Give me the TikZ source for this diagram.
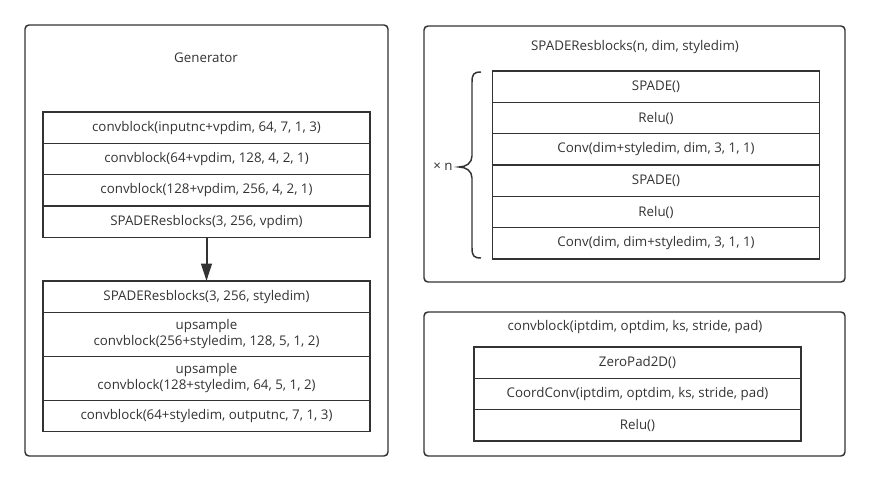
\documentclass[tikz,border=0pt]{standalone}
\usepackage{fontspec}
\setmainfont{Open Sans}
\usetikzlibrary{positioning,arrows.meta}
\definecolor{linegray}{HTML}{333333}
\tikzset{
    outer-box/.style = {draw=linegray, line width=1.1pt, rounded corners=3pt},
    layer-box/.style = {draw=linegray, line width=1.2pt, rectangle, inner sep=0pt, outer sep=0pt, align=center,
        minimum width=245pt, minimum height=23.5pt, text=linegray, font=\fontsize{10}{12}\selectfont},
    tall-box/.style = {layer-box, minimum height=33pt},
    box-title/.style = {text=linegray, font=\fontsize{10}{12}\selectfont},
}

\begin{document}
\begin{tikzpicture}[x=0.75pt, y=-0.75pt]
\useasboundingbox (0,0) rectangle (870,481);

% Generator
\draw[outer-box] (25,25) rectangle (388,456);
\node[box-title] (gen-title) at (206,58) {Generator};
\node[layer-box, anchor=north] (g1) at (206.5,112) {convblock(inputnc+vpdim, 64, 7, 1, 3)};
\node[layer-box, below=0pt of g1] (g2) {convblock(64+vpdim, 128, 4, 2, 1)};
\node[layer-box, below=0pt of g2] (g3) {convblock(128+vpdim, 256, 4, 2, 1)};
\node[layer-box, below=0pt of g3] (g4) {SPADEResblocks(3, 256, vpdim)};
\node[layer-box, anchor=north] (g5) at (206.5,281) {SPADEResblocks(3, 256, styledim)};
\node[tall-box, below=0pt of g5] (g6) {upsample\\convblock(256+styledim, 128, 5, 1, 2)};
\node[tall-box, below=0pt of g6] (g7) {upsample\\convblock(128+styledim, 64, 5, 1, 2)};
\node[layer-box, below=0pt of g7] (g8) {convblock(64+styledim, outputnc, 7, 1, 3)};
\draw[linegray, line width=1.5pt, -{Triangle[length=13pt, width=8pt]}] (g4) -- (g5);

% SPADEResblocks
\draw[outer-box] (424,26) rectangle (845,282);
\node[box-title] (res-title) at (635,47) {SPADEResblocks(n, dim, styledim)};
\node[layer-box, anchor=north] (r1) at (656,71) {SPADE()};
\node[layer-box, below=0pt of r1] (r2) {Relu()};
\node[layer-box, below=0pt of r2] (r3) {Conv(dim+styledim, dim, 3, 1, 1)};
\node[layer-box, below=0pt of r3] (r4) {SPADE()};
\node[layer-box, below=0pt of r4] (r5) {Relu()};
\node[layer-box, below=0pt of r5] (r6) {Conv(dim, dim+styledim, 3, 1, 1)};
% brace
\draw[linegray, line width=1.1pt]
    (481,72) .. controls (474,72) and (472,74) .. (472,82) -- (472,156)
    .. controls (472,163) and (466,167) .. (459,167)
    .. controls (466,167) and (472,171) .. (472,178) -- (472,248)
    .. controls (472,256) and (474,258) .. (481,258);
\node[box-title] (times-n) at (443,167) {× n};

% convblock
\draw[outer-box] (424,312) rectangle (845,456);
\node[box-title] (conv-title) at (635,327) {convblock(iptdim, optdim, ks, stride, pad)};
\node[layer-box, anchor=north] (c1) at (637.5,347) {ZeroPad2D()};
\node[layer-box, below=0pt of c1] (c2) {CoordConv(iptdim, optdim, ks, stride, pad)};
\node[layer-box, below=0pt of c2] (c3) {Relu()};
\end{tikzpicture}
\end{document}
